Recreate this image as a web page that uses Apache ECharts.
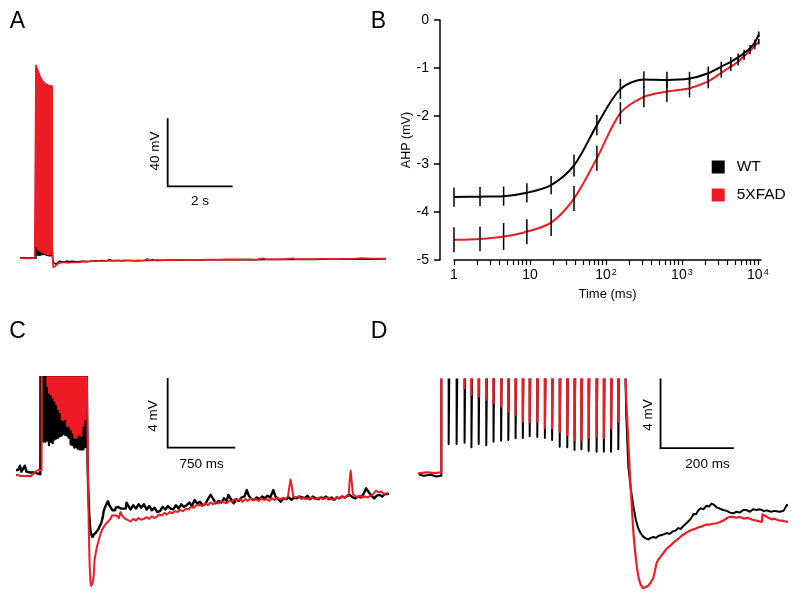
<!DOCTYPE html>
<html><head><meta charset="utf-8">
<script src="https://cdn.jsdelivr.net/npm/echarts@6/dist/echarts.min.js"></script>
<style>html,body{margin:0;padding:0;background:#fff}#c{width:800px;height:601px}</style>
</head><body><div id="c"></div>
<script>
// ---------------- Panel B: AHP vs time (log axis) ----------------
const bTimes  = [1, 2.2, 4.5, 9.1, 19, 38, 76, 155, 316, 635, 1260, 2220, 3300, 4400, 5500, 6600, 7900, 9100, 10300];
const wtMean  = [-3.69, -3.68, -3.67, -3.60, -3.44, -3.03, -2.19, -1.44, -1.24, -1.25, -1.22, -1.11, -0.97, -0.87, -0.78, -0.69, -0.59, -0.47, -0.30];
const wtErr   = [0.20, 0.20, 0.20, 0.20, 0.19, 0.23, 0.21, 0.21, 0.17, 0.17, 0.14, 0.14, 0.10, 0.10, 0.08, 0.07, 0.07, 0.06, 0.06];
const fadMean = [-4.58, -4.56, -4.51, -4.41, -4.22, -3.72, -2.88, -1.94, -1.60, -1.49, -1.42, -1.28, -1.10, -0.97, -0.87, -0.75, -0.64, -0.54, -0.45];
const fadErr  = [0.26, 0.26, 0.28, 0.26, 0.28, 0.26, 0.26, 0.23, 0.22, 0.22, 0.19, 0.14, 0.10, 0.09, 0.08, 0.08, 0.07, 0.07, 0.06];
const bXLabels = [1, 10, 100, 1000, 10000];
const bXTicks  = [1,2,3,4,5,6,7,8,9,10,20,30,40,50,60,70,80,90,100,200,300,400,500,600,700,800,900,1000,2000,3000,4000,5000,6000,7000,8000,9000,10000];

// ---------------- Recorded traces (ms, mV relative to rest) ----------------
const spikeTimes = [0, 18, 40, 62, 81, 101, 122, 142, 163, 183, 203, 223, 242, 263, 284, 304, 325, 346, 366, 385, 405, 427, 447, 467, 487, 505];
const fadPeaks   = [114.5, 113.8, 112.5, 111.5, 110.5, 109.5, 108.5, 107.5, 106.8, 106, 105.5, 105, 104.5, 104, 103.8, 103.5, 103.2, 103, 102.8, 102.5, 102.3, 102.2, 102.2, 102.2, 102.2, 102];
const wtPeaks    = [112, 111, 110, 109, 108, 107, 106, 105.5, 105, 104.5, 104, 103.5, 103, 102.5, 102, 101.5, 101, 100.5, 100, 100, 100, 100, 100, 100, 100, 100];
const fadTroughs = [7, 6.5, 6.2, 4.99, 4.6, 4.5, 4.31, 4.12, 3.92, 3.63, 3.44, 3.05, 3.0, 3.05, 2.66, 2.66, 2.46, 2.27, 1.98, 1.98, 2.08, 2.17, 2.08, 2.66, 3.05];
const wtTroughs  = [6, 1.75, 1.75, 1.82, 1.55, 1.75, 1.67, 1.88, 1.94, 1.98, 2.08, 2.1, 2.2, 2.15, 2.1, 1.98, 1.59, 1.55, 1.4, 1.44, 1.34, 1.3, 1.3, 1.3, 1.44];
const interspikeLevel = 9;

const wtPre = [[-500,0.1],[-450,0.0],[-400,0.15],[-350,0.0],[-300,0.1],[-263,0.1],[-245,0.35],[-228,0.0],[-210,0.05],[-190,0.35],[-172,0.0],[-150,0.05],[-130,-0.05],[-110,0.05],[-90,-0.05],[-70,0.0],[-50,-0.1],[-30,-0.05],[-15,-0.15],[-1,-0.1]];
const fadPre = [[-500,-0.1],[-400,-0.15],[-300,-0.2],[-263,-0.2],[-240,-0.25],[-220,-0.15],[-200,-0.25],[-180,-0.2],[-160,-0.25],[-140,-0.2],[-120,-0.25],[-100,-0.15],[-80,-0.05],[-60,0.05],[-40,0.1],[-20,0.05],[-1,0.1]];

const wtPost = [[507,7],[510,3.5],[516,0.43],[523,-0.9],[530,-1.9],[537,-2.7],[543,-3.14],[550,-3.45],[557,-3.65],[564,-3.75],[571,-3.81],[578,-3.72],[585,-3.67],[592,-3.72],[600,-3.6],[608,-3.55],[615,-3.5],[622,-3.44],[630,-3.5],[638,-3.35],[646,-3.3],[654,-3.15],[661,-3.2],[668,-3.03],[675,-2.9],[682,-2.75],[689,-2.6],[696,-2.33],[703,-2.35],[710,-2.1],[716,-2.0],[724,-2.05],[732,-1.85],[739,-1.9],[746,-1.72],[753,-1.8],[760,-1.95],[767,-2.0],[778,-2.1],[788,-2.15],[797,-2.25],[806,-2.29],[815,-2.2],[824,-2.25],[834,-2.1],[843,-2.1],[852,-2.2],[861,-2.05],[870,-2.1],[880,-2.06],[890,-2.15],[900,-2.12],[910,-2.2],[920,-2.15],[935,-2.2],[945,-2.15],[954,-1.8],
 [975,-2.0],[1000,-2.2],[1030,-1.95],[1060,-2.15],[1090,-1.9],[1120,-2.1],[1150,-1.9],[1180,-2.2],[1210,-2.0],[1240,-2.25],[1270,-2.1],[1300,-2.35],[1330,-2.3],[1360,-2.05],[1390,-2.2],[1420,-2.0],[1450,-2.15],[1480,-2.2],[1510,-1.95],[1540,-2.15],[1570,-1.9],[1600,-2.05],[1630,-1.95],[1660,-1.8],[1690,-2.0],[1720,-1.65],[1750,-1.85],[1780,-1.75],[1810,-1.95],[1840,-1.9],[1870,-1.6],[1900,-1.35],[1930,-1.6],[1960,-1.84],[1990,-1.7],[2020,-1.8],[2050,-1.55],[2080,-1.7],[2100,-1.36],[2130,-1.6],[2160,-1.84],[2190,-1.6],[2220,-1.7],[2250,-1.5],[2280,-1.45],[2306,-1.07],[2330,-1.4],[2360,-1.6],[2390,-1.65],[2420,-1.5],[2450,-1.6],[2480,-1.45],[2510,-1.55],[2540,-1.4],[2570,-1.5],[2606,-1.07],[2630,-1.45],[2660,-1.6],[2690,-1.75],[2720,-1.55],[2750,-1.6],[2780,-1.5],[2810,-1.65],[2840,-1.5],[2870,-1.55],[2900,-1.45],[2930,-1.5],[2960,-1.55],[2990,-1.4],[3020,-1.6],[3050,-1.45],[3080,-1.55],[3110,-1.6],[3140,-1.5],[3170,-1.55],[3200,-1.45],[3230,-1.6],[3260,-1.5],[3290,-1.65],[3320,-1.5],[3350,-1.55],[3380,-1.45],[3410,-1.5],[3440,-1.4],[3470,-1.36],[3500,-1.5],[3530,-1.55],[3560,-1.45],[3590,-1.5],[3620,-1.3],[3650,-0.97],[3680,-1.2],[3710,-1.4],[3740,-1.55],[3770,-1.4],[3800,-1.35],[3830,-1.45],[3860,-1.3],[3890,-1.3],
 [4200,-1.2],[4500,-1.3],[4800,-1.1],[5100,-1.2],[5400,-1.0],[5700,-1.1],[6000,-0.95],[6300,-1.05],[6600,-0.9],[6900,-1.0],[7200,-0.85],[7500,-0.95],[7800,-0.8],[8100,-0.9],[8400,-0.75],[8700,-0.85],[9000,-0.7],[9300,-0.8],[9600,-0.65],[9900,-0.75],[10200,-0.6],[10500,-0.7],[10800,-0.55],[10940,-0.6]];

const fadPost = [[505,7],[512,3.5],[520,0.06],[525,-1.7],[530,-3.44],[535,-4.6],[540,-5.5],[545,-6.1],[550,-6.45],[557,-6.65],[563,-6.6],[570,-6.52],[577,-6.35],[585,-6.06],[590,-5.6],[594,-5.18],[600,-4.95],[606,-4.8],[613,-4.6],[620,-4.4],[628,-4.25],[636,-4.1],[643,-3.95],[650,-3.84],[658,-3.7],[666,-3.55],[674,-3.45],[682,-3.35],[690,-3.26],[700,-3.2],[710,-3.1],[720,-3.05],[730,-2.95],[740,-2.95],[750,-2.9],[760,-2.87],[770,-2.8],[780,-2.7],[790,-2.55],[797,-2.49],[805,-2.5],[815,-2.55],[825,-2.5],[835,-2.6],[847,-2.56],[857,-2.65],[867,-2.7],[877,-2.75],[885,-2.8],[887,-2.35],[889,-2.29],[895,-2.45],[903,-2.55],[912,-2.64],[920,-2.6],[930,-2.7],[940,-2.72],[954,-2.78],
 [970,-2.85],[1000,-2.9],[1030,-2.75],[1060,-2.85],[1090,-2.7],[1120,-2.8],[1150,-2.75],[1180,-2.65],[1210,-2.75],[1240,-2.6],[1270,-2.7],[1294,-2.62],[1320,-2.5],[1350,-2.55],[1380,-2.4],[1410,-2.5],[1440,-2.35],[1470,-2.42],[1500,-2.3],[1530,-2.35],[1556,-2.23],[1590,-2.3],[1620,-2.15],[1650,-2.2],[1680,-2.05],[1710,-2.1],[1740,-1.95],[1781,-1.94],[1810,-2.0],[1840,-1.85],[1870,-1.95],[1900,-1.8],[1930,-1.9],[1960,-1.75],[1990,-1.85],[2020,-1.7],[2050,-1.8],[2081,-1.84],[2110,-1.7],[2140,-1.75],[2170,-1.6],[2200,-1.7],[2230,-1.6],[2260,-1.75],[2290,-1.6],[2320,-1.7],[2350,-1.55],[2380,-1.65],[2410,-1.6],[2440,-1.7],[2470,-1.55],[2500,-1.65],[2530,-1.6],[2560,-1.7],[2590,-1.55],[2620,-1.65],[2650,-1.5],[2680,-1.6],[2710,-1.55],[2740,-1.6],[2770,-1.45],[2785,-0.9],[2800,-0.45],[2815,-0.9],[2830,-1.45],[2860,-1.5],[2890,-1.44],[2920,-1.6],[2950,-1.5],[2980,-1.6],[3010,-1.55],[3040,-1.5],[3070,-1.6],[3100,-1.55],[3130,-1.5],[3160,-1.6],[3190,-1.55],[3220,-1.5],[3250,-1.6],[3281,-1.65],[3310,-1.5],[3340,-1.55],[3370,-1.45],[3400,-1.5],[3430,-1.44],[3455,-1.3],[3465,-0.5],[3476,0.06],[3488,-0.6],[3500,-1.3],[3520,-1.4],[3550,-1.5],[3580,-1.4],[3610,-1.5],[3640,-1.45],[3670,-1.5],[3700,-1.4],[3730,-1.3],[3760,-1.1],[3790,-1.2],[3820,-1.15],[3850,-1.3],[3890,-1.25],
 [4200,-1.25],[4500,-1.2],[4800,-1.15],[5100,-1.1],[5400,-1.05],[5700,-1.0],[6000,-1.0],[6300,-0.9],[6600,-0.95],[6900,-0.85],[7100,-0.3],[7200,-0.8],[7500,-0.85],[7800,-0.75],[8030,-0.2],[8100,-0.7],[8400,-0.75],[8700,-0.65],[9000,-0.6],[9300,-0.65],[9600,-0.55],[9900,-0.5],[10180,-0.1],[10200,-0.55],[10500,-0.45],[10800,-0.4],[10940,-0.45]];

// scale bar sizes
const scaleA = {ms: 2000, mV: 40};
const scaleC = {ms: 750, mV: 4};
const scaleD = {ms: 200, mV: 4};

// ---------------- build ----------------
const FF = "'Liberation Sans', Arial, Helvetica, sans-serif";
const RED = '#ed1c24', BLK = '#000000';

function buildTrace(pre, peaks, troughs, post) {
  const pts = pre.map(p => p.slice());
  spikeTimes.forEach((t, k) => {
    if (k > 0) pts.push([t - 0.5, interspikeLevel]);
    pts.push([t, peaks[k]]);
    if (k < troughs.length) {
      pts.push([t + 1.2, troughs[k]]);
      pts.push([t + 4.5, interspikeLevel]);
    }
  });
  return pts.concat(post);
}
const wtTrace = buildTrace(wtPre, wtPeaks, wtTroughs, wtPost);
const fadTrace = buildTrace(fadPre, fadPeaks, fadTroughs, fadPost);

function scaleBar(anchor, s) {
  return [[anchor[0], anchor[1] + s.mV], anchor, [anchor[0] + s.ms, anchor[1]]];
}
function trace(idx, data, color, width) {
  return {type: 'line', xAxisIndex: idx, yAxisIndex: idx, data, showSymbol: false, symbol: 'none',
    silent: true, animation: false, clip: true, lineStyle: {color, width, join: 'round'}, itemStyle: {color}};
}
function bar(idx, data) {
  return {type: 'line', xAxisIndex: idx, yAxisIndex: idx, data, showSymbol: false, symbol: 'none',
    silent: true, animation: false, clip: false, lineStyle: {color: BLK, width: 1.8, join: 'miter', cap: 'square'}};
}
function errSeries(means, errs) {
  return {type: 'custom', xAxisIndex: 1, yAxisIndex: 1, silent: true, animation: false, z: 5,
    data: bTimes.map((t, i) => [t, means[i] - errs[i], means[i] + errs[i]]),
    encode: {x: 0, y: [1, 2]},
    renderItem: (params, api) => {
      const a = api.coord([api.value(0), api.value(1)]);
      const b = api.coord([api.value(0), api.value(2)]);
      return {type: 'line', shape: {x1: a[0], y1: a[1], x2: b[0], y2: b[1]}, style: {stroke: BLK, lineWidth: 1.5}};
    }};
}
function txt(x, y, text, size, rot) {
  return {type: 'text', x, y, rotation: rot || 0, silent: true,
    style: {text, x: 0, y: 0, fill: BLK, font: size + 'px ' + FF, textAlign: 'center', textVerticalAlign: 'middle'}};
}

const chart = echarts.init(document.getElementById('c'), null, {renderer: 'canvas'});
chart.setOption({
  animation: false,
  backgroundColor: '#fff',
  grid: [
    {left: 20, top: 56, width: 366, height: 227.2},
    {left: 454, top: 20, width: 307, height: 240},
    {left: 17.7, top: 377.2, width: 369, height: 214.7},
    {left: 420, top: 379.5, width: 366.8, height: 214.7}
  ],
  xAxis: [
    {gridIndex: 0, type: 'value', min: -500, max: 10937.5, show: false},
    {gridIndex: 1, type: 'log', logBase: 10, min: 1, max: 11000,
      name: 'Time (ms)', nameLocation: 'middle', nameGap: 28,
      nameTextStyle: {color: BLK, fontSize: 13, fontFamily: FF},
      axisLine: {onZero: false, lineStyle: {color: BLK, width: 1.5}},
      axisTick: {customValues: bXTicks, length: 5, lineStyle: {color: BLK, width: 1.2}},
      splitLine: {show: false}, minorTick: {show: false},
      axisLabel: {customValues: bXLabels, margin: 8, color: BLK, fontSize: 14, fontFamily: FF,
        formatter: v => v < 100 ? String(Math.round(v)) : '{n|10}{s|' + Math.round(Math.log10(v)) + '}',
        rich: {n: {fontSize: 14, fontFamily: FF, color: BLK},
               s: {fontSize: 9, fontFamily: FF, color: BLK, verticalAlign: 'top', padding: [0, 0, 6, 1]}}}},
    {gridIndex: 2, type: 'value', min: -270, max: 3881, show: false},
    {gridIndex: 3, type: 'value', min: -60, max: 954, show: false}
  ],
  yAxis: [
    {gridIndex: 0, type: 'value', min: -15, max: 120, show: false},
    {gridIndex: 1, type: 'value', min: -5, max: 0, interval: 1, offset: 14,
      name: 'AHP (mV)', nameLocation: 'middle', nameGap: 26,
      nameTextStyle: {color: BLK, fontSize: 12.5, fontFamily: FF},
      axisLine: {show: true, onZero: false, lineStyle: {color: BLK, width: 1.5}},
      axisTick: {show: true, length: 6, lineStyle: {color: BLK, width: 1.5}},
      splitLine: {show: false},
      axisLabel: {margin: 11, color: BLK, fontSize: 14, fontFamily: FF}},
    {gridIndex: 2, type: 'value', min: -7, max: 5.5, show: false},
    {gridIndex: 3, type: 'value', min: -7, max: 5.5, show: false}
  ],
  legend: {data: ['WT', '5XFAD'], orient: 'vertical', left: 711.7, top: 159, padding: 0, icon: 'rect',
    itemWidth: 13, itemHeight: 13, itemGap: 12, selectedMode: false,
    textStyle: {color: BLK, fontSize: 15.5, fontFamily: FF, padding: [0, 0, 0, 7]}},
  series: [
    trace(0, wtTrace, BLK, 1.5),
    trace(0, fadTrace, RED, 1.7),
    bar(0, scaleBar([4115, 42.5], scaleA)),
    {type: 'line', name: 'WT', xAxisIndex: 1, yAxisIndex: 1, data: bTimes.map((t, i) => [t, wtMean[i]]),
      smooth: 0.3, showSymbol: false, symbol: 'none', animation: false, silent: true,
      lineStyle: {color: BLK, width: 2}, itemStyle: {color: BLK}},
    {type: 'line', name: '5XFAD', xAxisIndex: 1, yAxisIndex: 1, data: bTimes.map((t, i) => [t, fadMean[i]]),
      smooth: 0.3, showSymbol: false, symbol: 'none', animation: false, silent: true,
      lineStyle: {color: RED, width: 2}, itemStyle: {color: RED}},
    errSeries(wtMean, wtErr),
    errSeries(fadMean, fadErr),
    trace(2, wtTrace, BLK, 2.4),
    trace(2, fadTrace, RED, 2),
    bar(2, scaleBar([1417, 1.4], scaleC)),
    trace(3, wtTrace, BLK, 2),
    trace(3, fadTrace, RED, 2.2),
    bar(3, scaleBar([605, 1.5], scaleD))
  ],
  graphic: [
    txt(17.5, 21.5, 'A', 23), txt(378.5, 21.5, 'B', 23),
    txt(17.5, 332, 'C', 23), txt(379, 332, 'D', 23),
    txt(155, 151, '40 mV', 13.5, Math.PI / 2), txt(200, 201, '2 s', 13.5),
    txt(153.3, 416, '4 mV', 13.5, Math.PI / 2), txt(201.7, 464.3, '750 ms', 13.5),
    txt(648.3, 415, '4 mV', 13.5, Math.PI / 2), txt(707.5, 464.5, '200 ms', 13.5)
  ]
});
</script></body></html>
